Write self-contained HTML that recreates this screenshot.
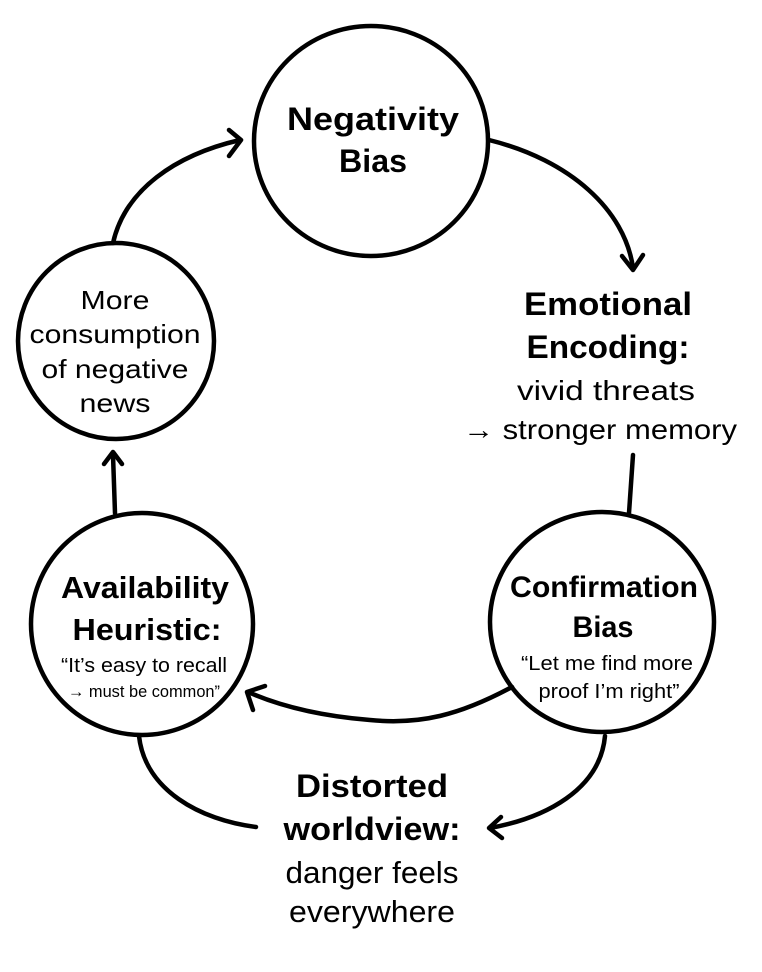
<!DOCTYPE html>
<html><head><meta charset="utf-8"><style>
html,body{margin:0;padding:0;background:#fff;}
svg{display:block;}
text{font-family:"Liberation Sans",sans-serif;fill:#000;text-anchor:middle;}
.b{font-weight:bold;}
</style></head><body>
<svg width="762" height="972" viewBox="0 0 762 972" xmlns="http://www.w3.org/2000/svg">
<g fill="none" stroke="#000" stroke-width="4.5" stroke-linecap="round" stroke-linejoin="round">
<ellipse cx="371" cy="141" rx="117" ry="115"/>
<ellipse cx="116" cy="341" rx="98" ry="98"/>
<ellipse cx="142" cy="624" rx="111" ry="111"/>
<ellipse cx="602" cy="622" rx="112" ry="110"/>
<path d="M113 243 C125 190 175 155 240 140"/>
<path d="M229 130 L241 140 L229 156"/>
<path d="M489 140 C570 160 625 210 633 268"/>
<path d="M622 256 L633 270 L643 255"/>
<path d="M633 455 L629 513"/>
<path d="M115 513 L113 455"/>
<path d="M104 464 L113 452 L122 464"/>
<path d="M512 687 C460 715 420 725 370 720 C320 716 280 706 248 692"/>
<path d="M253 710 L247 692 L265 686"/>
<path d="M139 736 C145 790 200 820 256 827"/>
<path d="M605 736 C600 790 545 818 490 828"/>
<path d="M501 817 L489 828 L502 838"/>
</g>
<g lengthAdjust="spacingAndGlyphs">
<text class="b" x="373" y="130" font-size="32" textLength="172" lengthAdjust="spacingAndGlyphs">Negativity</text>
<text class="b" x="373" y="172" font-size="32" textLength="68" lengthAdjust="spacingAndGlyphs">Bias</text>
<text x="115" y="309" font-size="26" textLength="69" lengthAdjust="spacingAndGlyphs">More</text>
<text x="115" y="343" font-size="26" textLength="171" lengthAdjust="spacingAndGlyphs">consumption</text>
<text x="115" y="378" font-size="26" textLength="147" lengthAdjust="spacingAndGlyphs">of negative</text>
<text x="115" y="412" font-size="26" textLength="71" lengthAdjust="spacingAndGlyphs">news</text>
<text class="b" x="608" y="315" font-size="32" textLength="168" lengthAdjust="spacingAndGlyphs">Emotional</text>
<text class="b" x="608" y="358" font-size="32" textLength="163" lengthAdjust="spacingAndGlyphs">Encoding:</text>
<text x="606" y="400" font-size="28" textLength="178" lengthAdjust="spacingAndGlyphs">vivid threats</text>
<text x="600" y="439" font-size="28" textLength="274" lengthAdjust="spacingAndGlyphs">→ stronger memory</text>
<text class="b" x="145" y="598" font-size="31" textLength="168" lengthAdjust="spacingAndGlyphs">Availability</text>
<text class="b" x="147" y="640" font-size="31" textLength="149" lengthAdjust="spacingAndGlyphs">Heuristic:</text>
<text x="144" y="672" font-size="20" textLength="166" lengthAdjust="spacingAndGlyphs">“It’s easy to recall</text>
<text x="144" y="697" font-size="17" textLength="152" lengthAdjust="spacingAndGlyphs">→ must be common”</text>
<text class="b" x="604" y="597" font-size="30" textLength="188" lengthAdjust="spacingAndGlyphs">Confirmation</text>
<text class="b" x="603" y="637" font-size="30" textLength="61" lengthAdjust="spacingAndGlyphs">Bias</text>
<text x="607" y="670" font-size="20" textLength="172" lengthAdjust="spacingAndGlyphs">“Let me find more</text>
<text x="609" y="698" font-size="20" textLength="141" lengthAdjust="spacingAndGlyphs">proof I’m right”</text>
<text class="b" x="372" y="797" font-size="32" textLength="152" lengthAdjust="spacingAndGlyphs">Distorted</text>
<text class="b" x="372" y="840" font-size="32" textLength="177" lengthAdjust="spacingAndGlyphs">worldview:</text>
<text x="372" y="883" font-size="31" textLength="173" lengthAdjust="spacingAndGlyphs">danger feels</text>
<text x="372" y="922" font-size="31" textLength="166" lengthAdjust="spacingAndGlyphs">everywhere</text>
</g>
</svg>
</body></html>
